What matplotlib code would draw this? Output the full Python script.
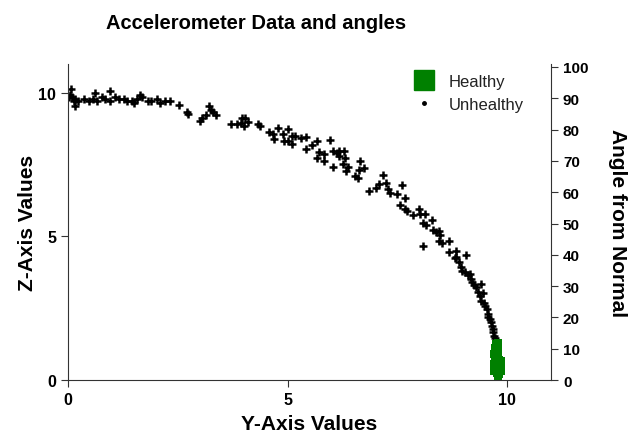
import matplotlib
matplotlib.use("Agg")
import matplotlib.pyplot as plt
from matplotlib.lines import Line2D

plt.rcParams['font.family'] = ['Liberation Sans', 'DejaVu Sans']

# unhealthy readings (Y-axis, Z-axis)
unhealthy_y = [0.07, 0.09, 0.16, 0.14, 0.16, 0.23, 0.05, 0.02, 0.37, 0.48, 0.57, 0.62, 0.66, 0.78,
               0.84, 0.96, 0.96, 1.07, 1.16, 1.28, 1.35, 1.46, 1.51, 1.58, 1.64, 1.69, 1.83, 1.89,
               2.03, 2.10, 2.21, 2.33, 2.53,
               2.72, 2.74, 3.01, 3.06, 3.15, 3.22, 3.26, 3.31, 3.38, 3.72, 3.84, 3.93, 3.97, 4.04,
               4.00, 4.09, 4.32, 4.38, 4.57, 4.66, 4.70, 4.79, 4.89, 4.91, 5.02, 5.02, 5.11, 5.11,
               5.18, 5.30, 5.41, 5.43, 5.55, 5.68, 5.96, 5.71, 5.66, 5.82, 5.84, 6.03, 6.03, 6.12,
               6.16, 6.16, 6.28, 6.30, 6.26, 6.37, 6.32, 6.64, 6.62, 6.74, 6.53, 6.60, 6.85,
               7.17, 7.08, 7.01, 7.24, 7.28, 7.33, 7.49, 7.60, 7.67, 7.56, 7.67, 7.72, 7.85, 7.99,
               8.01, 8.13, 8.08, 8.15, 8.29, 8.31, 8.38, 8.45, 8.47, 8.45, 8.52, 8.68, 8.08, 8.68,
               8.81, 8.84, 9.06, 8.84, 8.90, 8.95, 8.97, 9.04, 9.11, 9.16, 9.18, 9.20, 9.25, 9.29,
               9.41, 9.34, 9.38, 9.45, 9.41, 9.47, 9.50, 9.54, 9.57, 9.57, 9.61, 9.63, 9.66, 9.68,
               9.68, 9.70, 9.73, 9.75, 9.77, 9.75]
unhealthy_z = [10.14, 9.86, 9.79, 9.72, 9.55, 9.72, 9.90, 9.83, 9.76, 9.69, 9.79, 9.97, 9.69, 9.86,
               9.76, 10.07, 9.69, 9.86, 9.79, 9.76, 9.72, 9.69, 9.62, 9.76, 9.90, 9.86, 9.72, 9.69,
               9.79, 9.62, 9.69, 9.72, 9.58,
               9.34, 9.27, 9.02, 9.13, 9.23, 9.55, 9.41, 9.34, 9.23, 8.92, 8.92, 8.95, 9.13, 9.13,
               8.85, 8.99, 8.92, 8.82, 8.64, 8.57, 8.40, 8.78, 8.57, 8.33, 8.75, 8.33, 8.50, 8.22,
               8.50, 8.43, 8.47, 8.05, 8.19, 8.33, 8.36, 7.94, 7.74, 7.87, 7.63, 7.42, 7.98, 7.91,
               7.98, 7.80, 7.98, 7.74, 7.53, 7.42, 7.28, 7.63, 7.32, 7.39, 7.11, 7.04, 6.59,
               7.14, 6.83, 6.69, 6.86, 6.66, 6.52, 6.48, 6.79, 6.34, 6.10, 5.96, 5.89, 5.75, 5.96,
               5.78, 5.78, 5.47, 5.40, 5.57, 5.23, 5.16, 5.19, 5.05, 4.84, 4.77, 4.84, 4.67, 4.46,
               4.25, 4.49, 4.36, 4.29, 4.11, 3.94, 3.80, 3.76, 3.66, 3.69, 3.52, 3.41, 3.31, 3.24,
               3.34, 3.07, 2.93, 3.03, 2.75, 2.68, 2.58, 2.47, 2.30, 2.20, 2.13, 2.02, 1.88, 1.78,
               1.67, 1.53, 1.46, 1.32, 1.18, 1.08]

# healthy readings
healthy_y = [9.74, 9.78, 9.72, 9.80, 9.75, 9.79, 9.73, 9.77, 9.81, 9.75, 9.84, 9.86, 9.78, 9.83,
             9.87, 9.74, 9.80, 9.85, 9.76, 9.82, 9.78, 9.86, 9.71, 9.79, 9.70, 9.71]
healthy_z = [1.25, 1.20, 1.10, 1.05, 0.95, 0.90, 0.82, 0.75, 0.70, 0.62, 0.60, 0.55, 0.50, 0.45,
             0.42, 0.40, 0.35, 0.30, 0.25, 0.20, 0.15, 0.65, 0.55, 1.30, 0.90, 0.30]

angle_ticks = list(range(0, 101, 10))

fig = plt.figure(figsize=(6.32, 4.35), dpi=100)
ax = fig.add_axes([0.1076, 0.124, 0.7644, 0.727])

ax.scatter(healthy_y, healthy_z, marker='s', s=30, color='#008000', linewidths=0, zorder=3)
ax.scatter(unhealthy_y, unhealthy_z, marker='+', s=28, color='black', linewidths=1.8, zorder=2)

ax.set_xlim(0, 11)
ax.set_ylim(0, 11)
ax.set_xticks([0, 5, 10])
ax.set_yticks([0, 5, 10])
ax.spines['top'].set_visible(False)
ax.spines['right'].set_visible(False)
for s in ['left', 'bottom']:
    ax.spines[s].set_color('#333333')
ax.tick_params(direction='out', length=5, labelsize=11.5, colors='#333333', labelcolor='black')
for lab in ax.get_xticklabels() + ax.get_yticklabels():
    lab.set_fontweight('bold')

ax.set_xlabel('Y-Axis Values', fontsize=15, fontweight='bold', labelpad=5)
ax.set_ylabel('Z-Axis Values', fontsize=15, fontweight='bold', labelpad=1)

ax2 = ax.twinx()
ax2.set_ylim(0, 101)
ax2.set_yticks(angle_ticks)
ax2.spines['top'].set_visible(False)
ax2.spines['left'].set_visible(False)
ax2.spines['bottom'].set_visible(False)
ax2.spines['right'].set_color('#333333')
ax2.tick_params(direction='out', length=5, labelsize=11, colors='#333333', labelcolor='black')
for lab in ax2.get_yticklabels():
    lab.set_fontweight('bold')
ax2.set_ylabel('Angle from Normal', fontsize=15, fontweight='bold', rotation=270, labelpad=28)

handles = [Line2D([], [], marker='s', linestyle='none', color='#008000', markersize=14),
           Line2D([], [], marker='.', linestyle='none', color='black', markersize=5)]
ax.legend(handles, ['Healthy', 'Unhealthy'], loc='upper right', frameon=False, fontsize=12,
          bbox_to_anchor=(0.975, 1.015), handletextpad=0.5, labelspacing=0.45,
          labelcolor='#222222')

fig.text(0.405, 0.945, 'Accelerometer Data and angles', fontsize=14.5, fontweight='bold',
         ha='center', va='center')

fig.savefig('out.png', dpi=100)
